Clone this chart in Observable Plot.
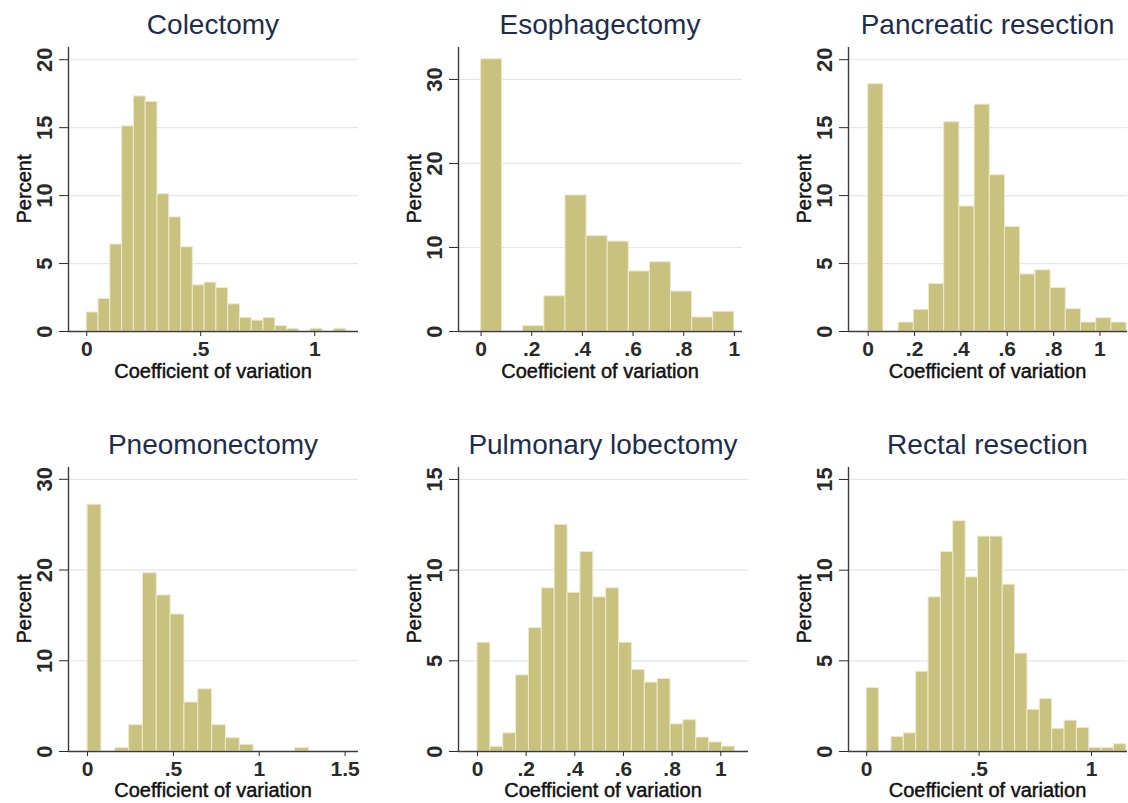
<!DOCTYPE html>
<html>
<head>
<meta charset="utf-8">
<script src="https://cdn.jsdelivr.net/npm/d3@7"></script>
<script src="https://cdn.jsdelivr.net/npm/@observablehq/plot@0.6"></script>
<style>
  html, body { margin: 0; padding: 0; background: #fff; overflow: hidden; }
  #root { position: relative; width: 1128px; height: 803px; font-family: "Liberation Sans", Arial, sans-serif; }
  .title { position: absolute; font-size: 28px; line-height: 28px; color: #1f2d4d; text-align: center; white-space: nowrap; }
  .xlab { position: absolute; font-size: 20px; line-height: 12px; color: #111; text-align: center; white-space: nowrap; -webkit-text-stroke: 0.45px #111; }
  .ylab { position: absolute; font-size: 20px; line-height: 16px; color: #111; white-space: nowrap; -webkit-text-stroke: 0.45px #111; transform: translate(-50%, -50%) rotate(-90deg); }
  #root svg { position: absolute; }
</style>
</head>
<body>
<div id="root"></div>
<script>
// ---- data (percent per bin, bins start at 0) ----
const titles = ["Colectomy", "Esophagectomy", "Pancreatic resection", "Pneomonectomy", "Pulmonary lobectomy", "Rectal resection"];
const colectomy    = [1.4, 2.4, 6.4, 15.1, 17.3, 16.9, 10.1, 8.4, 6.2, 3.4, 3.6, 3.2, 2.0, 1.0, 0.8, 1.0, 0.4, 0.2, 0, 0.2, 0, 0.2];
const esophagectomy = [32.4, 0, 0.64, 4.2, 16.2, 11.35, 10.7, 7.15, 8.25, 4.76, 1.67, 2.35];
const pancreatic   = [18.2, 0, 0.66, 1.6, 3.5, 15.4, 9.2, 16.7, 11.5, 7.7, 4.2, 4.5, 3.2, 1.65, 0.66, 0.98, 0.66];
const pneomonectomy = [27.2, 0, 0.37, 2.9, 19.65, 17.2, 15.1, 5.4, 6.85, 2.9, 1.47, 0.74, 0, 0, 0, 0.37];
const pulmonary    = [6.0, 0.26, 1.0, 4.2, 6.8, 9.0, 12.5, 8.75, 11.0, 8.5, 9.0, 6.0, 4.5, 3.8, 4.0, 1.5, 1.73, 0.77, 0.5, 0.27];
const rectal       = [3.5, 0, 0.8, 1.0, 4.4, 8.5, 11.0, 12.7, 9.6, 11.85, 11.85, 9.2, 5.4, 2.3, 2.9, 1.25, 1.7, 1.3, 0.2, 0.2, 0.4];
const series = [colectomy, esophagectomy, pancreatic, pneomonectomy, pulmonary, rectal];
const binWidths = [0.0517, 0.0833, 0.0656, 0.0806, 0.0529, 0.055];
const yTicks = [[0, 5, 10, 15, 20], [0, 10, 20, 30], [0, 5, 10, 15, 20], [0, 10, 20, 30], [0, 5, 10, 15], [0, 5, 10, 15]];
const xTicks = [[0, 0.5, 1], [0, 0.2, 0.4, 0.6, 0.8, 1], [0, 0.2, 0.4, 0.6, 0.8, 1], [0, 0.5, 1, 1.5], [0, 0.2, 0.4, 0.6, 0.8, 1], [0, 0.5, 1]];
const xLabel = "Coefficient of variation";
const yLabel = "Percent";

// ---- scale ranges and layout ----
const xDomains = [[-0.08, 1.192], [-0.089, 1.032], [-0.085, 1.119], [-0.111, 1.578], [-0.078, 1.114], [-0.081, 1.160]];
const yMax = [20.9, 33.8, 20.9, 31.3, 15.66, 15.66];
const colLeft = [0, 390, 780];
const colWidth = [370, 370, 348];
const marginRights = [12, 18, 1, 12, 12, 1];
const rowTop = [40, 460];
const H = 343, MT = 7, MB = 52, ML = 68;

const fmt = d => d === 0 ? "0" : d3.format("~g")(d).replace(/^0\./, ".");
const root = document.getElementById("root");

series.forEach((vals, i) => {
  const c = i % 3, r = Math.floor(i / 3);
  const w = binWidths[i];
  const bins = vals.map((v, k) => ({x1: k * w, x2: (k + 1) * w, y: v})).filter(d => d.y > 0);
  const W = colWidth[c];
  const MR = marginRights[i];
  const chart = Plot.plot({
    width: W, height: H,
    marginLeft: ML, marginRight: MR, marginTop: MT, marginBottom: MB,
    style: {fontFamily: "'Liberation Sans', Arial, sans-serif", fontSize: "21px", fontWeight: "bold", color: "#2a2a2a", background: "transparent", overflow: "visible"},
    x: {domain: xDomains[i]},
    y: {domain: [0, yMax[i]]},
    marks: [
      Plot.ruleY(yTicks[i].filter(d => d > 0), {stroke: "#e2e7ec", strokeWidth: 1.2}),
      Plot.rectY(bins, {x1: "x1", x2: "x2", y: "y", fill: "#c9c27e", stroke: "#ede9cf", strokeWidth: 1}),
      Plot.axisX({ticks: xTicks[i], tickSize: 5, tickPadding: 5, tickFormat: fmt, label: null, fontSize: 21, fontWeight: "bold"}),
      Plot.axisY({ticks: yTicks[i], tickSize: 9, tickPadding: 8, tickRotate: -90, tickFormat: d => String(d), label: null, fontSize: 22, fontWeight: "bold"}),
      Plot.ruleY([0], {stroke: "#3c3c3c", strokeWidth: 1.4}),
      Plot.ruleX([xDomains[i][0]], {stroke: "#3c3c3c", strokeWidth: 1.4})
    ]
  });
  chart.style.left = colLeft[c] + "px";
  chart.style.top = rowTop[r] + "px";
  root.appendChild(chart);

  const plotL = colLeft[c] + ML, plotR = colLeft[c] + W - MR;
  const t = document.createElement("div");
  t.className = "title";
  t.textContent = titles[i];
  t.style.left = plotL + "px";
  t.style.width = (plotR - plotL) + "px";
  t.style.top = (11 + r * 420) + "px";
  root.appendChild(t);

  const xl = document.createElement("div");
  xl.className = "xlab";
  xl.textContent = xLabel;
  xl.style.left = plotL + "px";
  xl.style.width = (plotR - plotL) + "px";
  xl.style.top = (r === 0 ? 365 : 784) + "px";
  root.appendChild(xl);

  const yl = document.createElement("div");
  yl.className = "ylab";
  yl.textContent = yLabel;
  yl.style.left = (plotL - 44) + "px";
  yl.style.top = (rowTop[r] + MT + (H - MT - MB) / 2) + "px";
  root.appendChild(yl);
});
</script>
</body>
</html>
